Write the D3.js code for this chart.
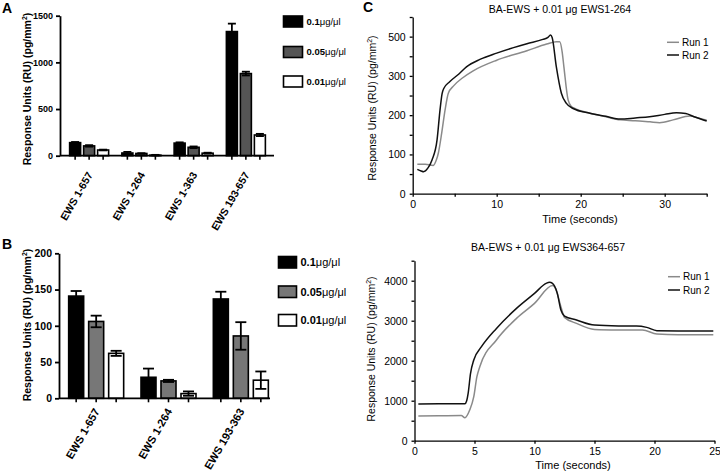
<!DOCTYPE html>
<html><head><meta charset="utf-8">
<script src="https://cdn.jsdelivr.net/npm/d3@7"></script>
<style>
html,body{margin:0;padding:0;background:#fff;}
svg{display:block;font-family:"Liberation Sans",Arial,Helvetica,sans-serif;}
</style></head><body>
<svg id="chart" width="720" height="472"></svg>
<script>
// ---------- DATA ----------
const concLabels = ["0.1", "0.05", "0.01"];
const concUnit = "μg/μl";

// Panel A
const groupsA = ["EWS 1-657", "EWS 1-264", "EWS 1-363", "EWS 193-657"];
const a01 = [140, 29, 135, 1330];
const a01Err = [7, 12, 8, 85];
const a005 = [105, 24, 90, 880];
const a005Err = [8, 2, 9, 20];
const a001 = [61, 6, 27, 222];
const a001Err = [4, 3, 5, 12];
const yTicksA = [0, 500, 1000, 1500];

// Panel B
const groupsB = ["EWS 1-657", "EWS 1-264", "EWS 193-363"];
const b01 = [141, 29, 137];
const b01Err = [7, 12, 10];
const b005 = [106, 24, 86];
const b005Err = [8, 1.5, 19];
const b001 = [62, 6.5, 25];
const b001Err = [3.5, 3, 12];
const yTicksB = [0, 50, 100, 150, 200];

// Panel C (top)
const c1Title = "BA-EWS + 0.01 μg EWS1-264";
const c1YTicks = [0, 100, 200, 300, 400];
const c1YTickLabels = ["0", "100", "200", "300", "500"];
const c1XTicks = [0, 10, 20, 30];
const c1Run1 = [[0.55,75],[1.5,75],[2.45,72],[2.8,85],[3.05,103],[3.45,154],[3.85,213],[4.24,256],[4.84,274],[6,296],[7.2,313],[10,340],[13.6,364],[15.95,381],[17.1,387],[17.5,387],[17.8,360],[18.0,323],[18.5,239],[18.9,222],[19.3,217],[21.1,205],[23,196],[24.7,188],[26.5,186],[28.25,183],[29.4,181],[31,188],[33,198],[34,193],[35,187]];
const c1Run2 = [[0.55,62],[1.0,58],[1.3,56],[1.8,65],[2.3,86],[2.9,137],[3.25,213],[3.5,255],[3.7,268],[4.4,285],[5.5,305],[6.4,323],[8,342],[10,358],[12,372],[13.6,382],[15.5,393],[16.1,398],[16.4,404],[16.6,398],[17.1,323],[17.7,256],[18.3,230],[19.1,217],[21.1,205],[23,197],[24.7,190],[26.5,193],[28.2,196],[30,202],[31.4,206],[32.5,204],[33.5,196],[35,185]];

// Panel C (bottom)
const c2Title = "BA-EWS + 0.01 μg EWS364-657";
const c2YTicks = [0, 1000, 2000, 3000, 4000];
const c2XTicks = [0, 5, 10, 15, 20, 25];
const c2Run1 = [[0.32,617],[2,622],[3.9,630],[4.2,575],[4.6,767],[4.94,1100],[5.2,1600],[5.44,1850],[6.83,2517],[8.5,3058],[10,3433],[11.5,3880],[11.75,3808],[12.2,3350],[12.5,3083],[13.5,2933],[15,2783],[17,2770],[19,2767],[20.2,2667],[22,2650],[24.9,2650]];
const c2Run2 = [[0.32,918],[2,922],[4.2,925],[4.35,1000],[4.47,1183],[4.67,1683],[4.94,2017],[5.58,2350],[6.83,2808],[8.5,3308],[10,3683],[10.97,3933],[11.25,3960],[11.5,3933],[11.9,3683],[12.2,3267],[12.5,3117],[13.5,3017],[15,2890],[17,2870],[18.5,2867],[19.35,2833],[20.2,2750],[22,2745],[24.9,2745]];
const runLabels = ["Run 1", "Run 2"];

// ---------- DRAW ----------
const svg = d3.select("#chart");
svg.append("rect").attr("width", 720).attr("height", 472).attr("fill", "#fff");

function panelLetter(t, x, y) {
  svg.append("text").attr("x", x).attr("y", y).attr("font-size", 14).attr("font-weight", "bold").text(t);
}
panelLetter("A", 2, 13);
panelLetter("B", 2, 249);
panelLetter("C", 363, 12);

function barPanel(cfg) {
  const g = svg.append("g");
  const y = d3.scaleLinear().domain(cfg.yDomain).range(cfg.yRange);
  const x = d3.scaleBand().domain(cfg.groups).range(cfg.xRange);
  const series = [
    {vals: cfg.s[0], err: cfg.e[0], fill: "#000"},
    {vals: cfg.s[1], err: cfg.e[1], fill: cfg.gray},
    {vals: cfg.s[2], err: cfg.e[2], fill: "#fff"}
  ];
  const cx = (gi, si) => x(cfg.groups[gi]) + x.bandwidth() / 2 + (si - 1) * cfg.step;
  const y0 = y(0);
  series.forEach((s, si) => {
    g.selectAll(null).data(s.vals).enter().append("rect")
      .attr("x", (d, i) => cx(i, si) - cfg.bw / 2)
      .attr("y", d => y(d))
      .attr("width", cfg.bw)
      .attr("height", d => y0 - y(d))
      .attr("fill", s.fill).attr("stroke", "#000").attr("stroke-width", 1.6);
  });
  series.forEach((s, si) => {
    const eg = g.selectAll(null).data(s.vals).enter().append("g").attr("stroke", "#000").attr("stroke-width", 1.8);
    eg.append("line").attr("x1", (d, i) => cx(i, si)).attr("x2", (d, i) => cx(i, si))
      .attr("y1", (d, i) => y(d - s.err[i])).attr("y2", (d, i) => y(d + s.err[i]));
    [1, -1].forEach(sg => {
      eg.append("line").attr("x1", (d, i) => cx(i, si) - cfg.cap).attr("x2", (d, i) => cx(i, si) + cfg.cap)
        .attr("y1", (d, i) => y(d + sg * s.err[i])).attr("y2", (d, i) => y(d + sg * s.err[i]));
    });
  });
  const ya = g.append("g").attr("transform", `translate(${cfg.axisX},0)`)
    .call(d3.axisLeft(y).tickValues(cfg.yTicks).tickFormat(d3.format("d")).tickSize(4).tickSizeOuter(0).tickPadding(3));
  ya.selectAll("path,line").attr("stroke", "#000").attr("stroke-width", 1.8);
  ya.selectAll("text").attr("font-size", cfg.tickFont).attr("font-weight", "bold").attr("fill", "#000").attr("font-family", "Liberation Sans, Arial, sans-serif");
  g.append("line").attr("x1", cfg.axisX).attr("x2", cfg.axisEnd).attr("y1", y0).attr("y2", y0)
    .attr("stroke", "#000").attr("stroke-width", 1.8);
  series.forEach((s, si) => {
    g.selectAll(null).data(s.vals).enter().append("line")
      .attr("x1", (d, i) => cx(i, si)).attr("x2", (d, i) => cx(i, si))
      .attr("y1", y0).attr("y2", y0 + 4).attr("stroke", "#000").attr("stroke-width", 1.6);
  });
  g.selectAll(null).data(cfg.groups).enter().append("text")
    .attr("transform", d => `translate(${x(d) + x.bandwidth() / 2 + cfg.lblDx},${y0 + cfg.lblDy}) rotate(-60)`)
    .attr("text-anchor", "end").attr("font-size", cfg.lblFont).attr("font-weight", "bold").text(d => d);
  const yt = g.append("text").attr("transform", `translate(${cfg.titleX},${cfg.titleY}) rotate(-90)`)
    .attr("text-anchor", "middle").attr("font-size", 10.5).attr("font-weight", "bold");
  yt.append("tspan").text("Response Units (RU) (pg/mm");
  yt.append("tspan").attr("font-size", 7).attr("dy", -4).text("2");
  yt.append("tspan").attr("dy", 4).text(")");
  const lg = g.selectAll(null).data(concLabels).enter().append("g")
    .attr("transform", (d, i) => `translate(${cfg.legX},${cfg.legY[i]})`);
  lg.append("rect").attr("width", cfg.legW).attr("height", cfg.legH)
    .attr("fill", (d, i) => series[i].fill).attr("stroke", "#000").attr("stroke-width", 1.6);
  const lt = lg.append("text").attr("x", cfg.legW + 4).attr("y", cfg.legH / 2 + cfg.legFont * 0.36)
    .attr("font-size", cfg.legFont).attr("font-weight", "bold");
  lt.append("tspan").text(d => d);
  lt.append("tspan").attr("font-weight", "normal").text(concUnit);
}

barPanel({
  groups: groupsA, s: [a01, a005, a001], e: [a01Err, a005Err, a001Err],
  yDomain: [0, 1500], yRange: [155.7, 15.7], yTicks: yTicksA,
  xRange: [63, 272], step: 14, bw: 11, cap: 4, gray: "#555",
  axisX: 60, axisEnd: 274, tickFont: 9, lblFont: 10.5, lblDx: 4, lblDy: 19,
  titleX: 31, titleY: 89,
  legX: 283.5, legY: [16, 46.5, 76], legW: 19, legH: 11, legFont: 9.5
});

barPanel({
  groups: groupsB, s: [b01, b005, b001], e: [b01Err, b005Err, b001Err],
  yDomain: [0, 200], yRange: [398.3, 253.3], yTicks: yTicksB,
  xRange: [60, 277], step: 20, bw: 15, cap: 5.5, gray: "#777",
  axisX: 59, axisEnd: 270, tickFont: 10.5, lblFont: 11, lblDx: 4, lblDy: 13,
  titleX: 31, titleY: 325,
  legX: 278.5, legY: [256.5, 286, 314.5], legW: 18, legH: 11.5, legFont: 11
});

function linePanel(cfg) {
  const g = svg.append("g");
  const x = d3.scaleLinear().domain(cfg.xDomain).range(cfg.xRange);
  const y = d3.scaleLinear().domain(cfg.yDomain).range(cfg.yRange);
  const labelOf = v => { const i = cfg.yTicks.indexOf(v); return i >= 0 ? cfg.yTickLabels[i] : ""; };
  const ya = g.append("g").attr("transform", `translate(${cfg.xRange[0]},0)`)
    .call(d3.axisLeft(y).tickValues(d3.range(cfg.yDomain[0], cfg.yDomain[1] + 1e-9, cfg.yMinor))
      .tickFormat(labelOf).tickSize(3).tickSizeOuter(0).tickPadding(4));
  const xa = g.append("g").attr("transform", `translate(0,${cfg.yRange[0]})`)
    .call(d3.axisBottom(x).tickValues(d3.range(cfg.xDomain[0], cfg.xDomain[1] + 1e-9, cfg.xMinor))
      .tickFormat(v => cfg.xTicks.includes(v) ? String(v) : "").tickSize(3).tickSizeOuter(0).tickPadding(4));
  [ya, xa].forEach(a => {
    a.selectAll("path,line").attr("stroke", "#000").attr("stroke-width", 1.3);
    a.selectAll("text").attr("font-size", 10.5).attr("fill", "#000").attr("font-family", "Liberation Sans, Arial, sans-serif");
  });
  const line = d3.line().x(d => x(d[0])).y(d => y(d[1])).curve(d3.curveMonotoneX);
  g.append("path").datum(cfg.run1).attr("d", line).attr("fill", "none").attr("stroke", "#8a8a8a").attr("stroke-width", 1.5);
  g.append("path").datum(cfg.run2).attr("d", line).attr("fill", "none").attr("stroke", "#111").attr("stroke-width", 1.5);
  g.append("text").attr("x", cfg.titleCx).attr("y", cfg.titleY).attr("text-anchor", "middle").attr("font-size", 10.5).text(cfg.title);
  g.append("text").attr("x", cfg.xTitleCx).attr("y", cfg.xTitleY).attr("text-anchor", "middle").attr("font-size", 11).text("Time (seconds)");
  const yt = g.append("text").attr("transform", `translate(${cfg.yTitleX},${cfg.yTitleY}) rotate(-90)`)
    .attr("text-anchor", "middle").attr("font-size", 10.5);
  yt.append("tspan").text("Response Units (RU) (pg/mm");
  yt.append("tspan").attr("font-size", 7).attr("dy", -4).text("2");
  yt.append("tspan").attr("dy", 4).text(")");
  const cols = ["#8a8a8a", "#111"];
  runLabels.forEach((r, i) => {
    const ly = cfg.legY[i];
    g.append("line").attr("x1", cfg.legX).attr("x2", cfg.legX + 12).attr("y1", ly).attr("y2", ly)
      .attr("stroke", cols[i]).attr("stroke-width", 1.5);
    g.append("text").attr("x", cfg.legX + 15).attr("y", ly + 3.6).attr("font-size", 10).text(r);
  });
}

linePanel({
  xDomain: [0, 35], xRange: [412.7, 706.7], yDomain: [0, 450], yRange: [193.7, 17],
  yMinor: 50, yTicks: c1YTicks, yTickLabels: c1YTickLabels, xMinor: 5, xTicks: c1XTicks,
  run1: c1Run1, run2: c1Run2, title: c1Title, titleCx: 560, titleY: 13,
  xTitleCx: 580, xTitleY: 223, yTitleX: 376, yTitleY: 108,
  legX: 667, legY: [42.3, 55]
});

linePanel({
  xDomain: [0, 25], xRange: [414.5, 714.5], yDomain: [0, 4500], yRange: [440.7, 260.7],
  yMinor: 500, yTicks: c2YTicks, yTickLabels: c2YTicks.map(String), xMinor: 5, xTicks: c2XTicks,
  run1: c2Run1, run2: c2Run2, title: c2Title, titleCx: 548, titleY: 251,
  xTitleCx: 573, xTitleY: 469, yTitleX: 375, yTitleY: 349,
  legX: 668, legY: [276.7, 290]
});
</script>
</body></html>
